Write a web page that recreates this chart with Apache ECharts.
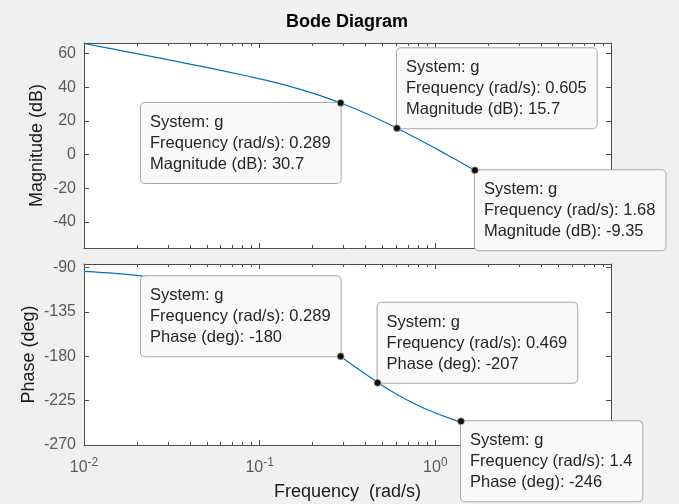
<!DOCTYPE html>
<html>
<head>
<meta charset="utf-8">
<script src="https://cdn.jsdelivr.net/npm/echarts@6/dist/echarts.min.js"></script>
<style>
html,body{margin:0;padding:0;background:#f0f0f0;}
#c{width:679px;height:504px;}
</style>
</head>
<body>
<div id="c"></div>
<script>
// ---- data ----
const freq = [0.01,0.015,0.02,0.03,0.05,0.07,0.1,0.12,0.15,0.2,0.25,0.289,0.35,0.469,0.605,0.8,1,1.2,1.4,1.68,2,3,5,7,10];
const magDb = [66.01,62.48,59.96,56.38,51.77,48.60,45.00,43.01,40.36,36.52,33.11,30.68,27.20,21.31,15.70,9.15,3.72,-0.82,-4.71,-9.34,-13.81,-24.27,-37.53,-46.28,-55.57];
const phaseDeg = [-94.01,-96.01,-98.01,-101.99,-109.84,-117.50,-128.50,-135.44,-145.19,-159.62,-171.87,-180.05,-190.86,-206.54,-218.70,-230.03,-237.53,-242.71,-246.49,-250.32,-253.41,-258.90,-263.32,-265.23,-266.66];

const magTipFreq = [0.289, 0.605, 1.68];
const magTipVal = [30.7, 15.7, -9.35];
const phaseTipFreq = [0.289, 0.469, 1.4];
const phaseTipVal = [-180, -207, -246];

const magTicks = [-40, -20, 0, 20, 40, 60];
const phaseTicks = [-270, -225, -180, -135, -90];
const minorFreqTicks = [0.02,0.03,0.04,0.05,0.06,0.07,0.08,0.09,0.2,0.3,0.4,0.5,0.6,0.7,0.8,0.9,2,3,4,5,6,7,8,9];

// ---- style ----
const FONT = "'Liberation Sans', Arial, Helvetica, sans-serif";
const AX = '#4d4d4d';
const LBL = '#5a5a5a';
const NAME = '#1a1a1a';
const LINE = '#0072bd';
const magTipPlace = [['right','top'], ['left','bottom'], ['left','top']];
const phaseTipPlace = [['right','bottom'], ['left','bottom'], ['left','top']];

function xMain(grid, pos, withLabels) {
  const a = {
    type: 'log', logBase: 10, min: 0.01, max: 10, gridIndex: grid, position: pos,
    axisLine: {show: true, onZero: false, lineStyle: {color: AX, width: 1}},
    axisTick: {show: true, inside: true, length: 5, lineStyle: {color: AX}},
    splitLine: {show: false}, minorTick: {show: false},
    axisLabel: {show: false}
  };
  if (withLabels) {
    a.axisLabel = {
      show: true, margin: 12, fontFamily: FONT,
      formatter: v => '{b|10}{e|' + Math.round(Math.log10(v)) + '}',
      rich: {
        b: {fontSize: 16, color: LBL, fontFamily: FONT},
        e: {fontSize: 12, color: LBL, fontFamily: FONT, padding: [0, 0, 9, 0]}
      }
    };
    a.name = 'Frequency  (rad/s)';
    a.nameLocation = 'middle';
    a.nameGap = 38;
    a.nameTextStyle = {fontSize: 18, color: NAME, fontFamily: FONT};
  }
  return a;
}
function xMinor(grid, pos) {
  return {
    type: 'value', min: -2, max: 1, gridIndex: grid, position: pos,
    axisLine: {show: false, onZero: false},
    axisTick: {show: true, inside: true, length: 3, customValues: minorFreqTicks.map(Math.log10), lineStyle: {color: AX}},
    axisLabel: {show: false}, splitLine: {show: false}
  };
}
function yAx(grid, pos, min, max, ticks, withLabels, name, gap) {
  const a = {
    type: 'value', gridIndex: grid, position: pos, min: min, max: max,
    axisLine: {show: true, onZero: false, lineStyle: {color: AX, width: 1}},
    axisTick: {show: true, inside: true, length: 5, customValues: ticks, lineStyle: {color: AX}},
    splitLine: {show: false},
    axisLabel: {show: false}
  };
  if (withLabels) {
    a.axisLabel = {show: true, customValues: ticks, fontSize: 16, color: LBL, fontFamily: FONT, margin: 8};
    a.name = name;
    a.nameLocation = 'middle';
    a.nameGap = gap;
    a.nameMoveOverlap = false;
    a.nameTextStyle = {fontSize: 18, color: NAME, fontFamily: FONT};
  }
  return a;
}

function tipSeries(xi, yi, fx, vals, unitLabel, place) {
  return {
    type: 'scatter', xAxisIndex: xi, yAxisIndex: yi, z: 10, clip: false,
    symbol: 'circle', symbolSize: 7,
    itemStyle: {color: '#111', opacity: 1},
    silent: true,
    data: fx.map((f, i) => ({
      value: [f, vals[i]],
      label: {align: place[i][0], verticalAlign: place[i][1]}
    })),
    label: {
      show: true, position: ['50%', '50%'],
      formatter: p => '{t|System: g}\n{t|Frequency (rad/s): ' + p.value[0] + '}\n{t|' + unitLabel + ': ' + p.value[1] + '}',
      rich: {t: {align: 'left', fontSize: 16.5, lineHeight: 21, fontFamily: FONT, color: '#262626'}},
      fontSize: 16.5, lineHeight: 21, fontFamily: FONT, color: '#262626',
      backgroundColor: '#f9f9fc', borderColor: '#a8a8a8', borderWidth: 1, borderRadius: 4,
      padding: [9, 10, 8, 9], opacity: 1
    }
  };
}
function markerSeries(xi, yi, fx, vals) {
  return {
    type: 'scatter', xAxisIndex: xi, yAxisIndex: yi, z: 12, clip: false, silent: true,
    symbol: 'circle', symbolSize: 7,
    itemStyle: {color: '#111', opacity: 1, borderColor: '#e8e4c8', borderWidth: 0.6},
    data: fx.map((f, i) => [f, vals[i]])
  };
}

const chart = echarts.init(document.getElementById('c'), null, {renderer: 'canvas'});
chart.setOption({
  backgroundColor: '#f0f0f0',
  animation: false,
  graphic: [{
    type: 'text', x: 347, y: 22,
    style: {text: 'Bode Diagram', font: 'bold 18px ' + FONT, fill: '#000', textAlign: 'center', textVerticalAlign: 'middle'}
  }],
  grid: [
    {left: 84, top: 43, width: 527, height: 205, show: true, backgroundColor: '#fff', borderWidth: 0},
    {left: 84, top: 264, width: 527, height: 181, show: true, backgroundColor: '#fff', borderWidth: 0}
  ],
  xAxis: [
    xMain(0, 'bottom', false), xMain(0, 'top', false), xMinor(0, 'bottom'), xMinor(0, 'top'),
    xMain(1, 'bottom', true), xMain(1, 'top', false), xMinor(1, 'bottom'), xMinor(1, 'top')
  ],
  yAxis: [
    yAx(0, 'left', -55.5, 66.3, magTicks, true, 'Magnitude (dB)', 38),
    yAx(0, 'right', -55.5, 66.3, magTicks, false),
    yAx(1, 'left', -270, -86.5, phaseTicks, true, 'Phase (deg)', 46),
    yAx(1, 'right', -270, -86.5, phaseTicks, false)
  ],
  series: [
    {type: 'line', xAxisIndex: 0, yAxisIndex: 0, data: freq.map((f, i) => [f, magDb[i]]),
     showSymbol: false, smooth: 0.3, lineStyle: {color: LINE, width: 1.2}, z: 3, silent: true},
    {type: 'line', xAxisIndex: 4, yAxisIndex: 2, data: freq.map((f, i) => [f, phaseDeg[i]]),
     showSymbol: false, smooth: 0.3, lineStyle: {color: LINE, width: 1.2}, z: 3, silent: true},
    tipSeries(0, 0, magTipFreq, magTipVal, 'Magnitude (dB)', magTipPlace),
    tipSeries(4, 2, phaseTipFreq, phaseTipVal, 'Phase (deg)', phaseTipPlace),
    markerSeries(0, 0, magTipFreq, magTipVal),
    markerSeries(4, 2, phaseTipFreq, phaseTipVal)
  ]
});
</script>
</body>
</html>
